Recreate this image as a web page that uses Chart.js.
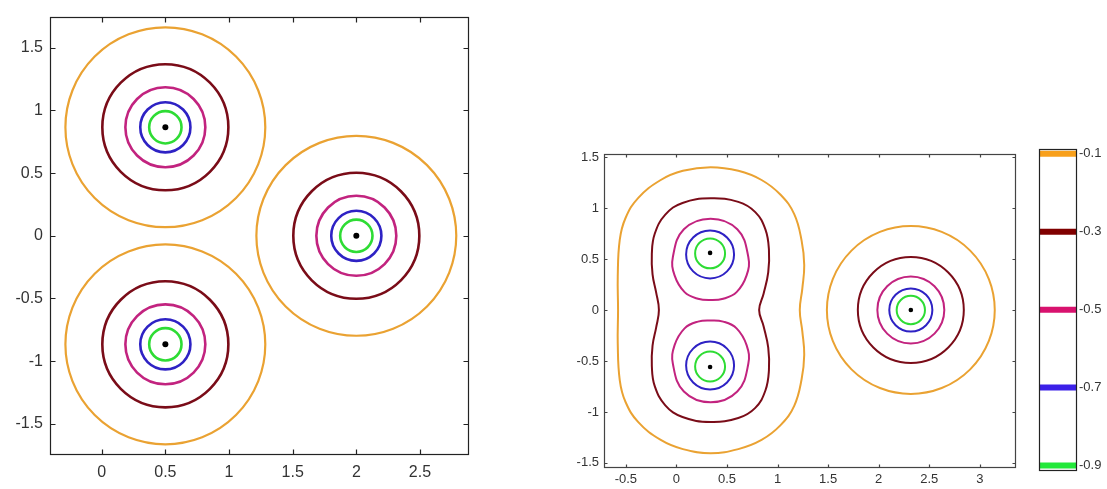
<!DOCTYPE html>
<html><head><meta charset="utf-8">
<script src="https://cdn.jsdelivr.net/npm/chart.js@4.4.1/dist/chart.umd.min.js"></script>
<style>
html,body{margin:0;padding:0;background:#fff;width:1107px;height:489px;overflow:hidden}
canvas{position:absolute}
</style></head><body>
<canvas id="c1" width="480" height="489" style="left:0;top:0"></canvas>
<canvas id="c2" width="490" height="359" style="left:540px;top:130px"></canvas>
<canvas id="c3" width="77" height="359" style="left:1030px;top:130px"></canvas>
<script>
// ---- contour levels and colours ----
const levels = [-0.1, -0.3, -0.5, -0.7, -0.9];
const lineColors = ['#EAA232', '#7A0C18', '#C2237F', '#2E22C4', '#2EDC34'];
const barColors = ['#F8A01C', '#800000', '#D8126E', '#3B20E8', '#22E83A'];
const levelLabels = ['-0.1', '-0.3', '-0.5', '-0.7', '-0.9'];

// ---- left panel: three equal charges, circular contours ----
const leftCenterX = [0.5, 0.5, 2.0];
const leftCenterY = [0.866, -0.866, 0.0];
const leftRadii = [0.785, 0.495, 0.314, 0.197, 0.127];
const leftXTicks = [0, 0.5, 1, 1.5, 2, 2.5];
const leftYTicks = [-1.5, -1, -0.5, 0, 0.5, 1, 1.5];

// ---- right panel ----
const rightCenterX = [0.333, 0.333, 2.318];
const rightCenterY = [0.56, -0.56, 0.0];
const farRadii = [0.83, 0.524, 0.331, 0.213, 0.14];       // around the lone charge
const pairCircleY = [0.545, 0.555];                     // blue, green centres (|y|)
const pairCircleR = [0.237, 0.148];                     // blue, green radii
const rightXTicks = [-0.5, 0, 0.5, 1, 1.5, 2, 2.5, 3];
const rightYTicks = [-1.5, -1, -0.5, 0, 0.5, 1, 1.5];

// closed contours (first point not repeated)
const orangeX = [0.338, 0.612, 0.842, 1.030, 1.165, 1.238, 1.264, 1.245, 1.220, 1.245, 1.264, 1.238, 1.165, 1.030, 0.842, 0.612, 0.338, 0.064, -0.155, -0.377, -0.504, -0.560, -0.580, -0.577, -0.580, -0.560, -0.504, -0.377, -0.155, 0.064];
const orangeY = [1.400, 1.365, 1.275, 1.130, 0.940, 0.680, 0.440, 0.210, 0.000, -0.210, -0.440, -0.680, -0.940, -1.130, -1.275, -1.365, -1.405, -1.365, -1.275, -1.100, -0.900, -0.690, -0.330, 0.000, 0.330, 0.690, 0.900, 1.100, 1.275, 1.365];
const darkRedX = [0.338, 0.612, 0.780, 0.880, 0.915, 0.908, 0.862, 0.818, 0.862, 0.908, 0.915, 0.880, 0.780, 0.612, 0.338, 0.060, -0.110, -0.215, -0.243, -0.236, -0.200, -0.173, -0.200, -0.236, -0.243, -0.215, -0.110, 0.060];
const darkRedY = [1.095, 1.060, 0.960, 0.790, 0.590, 0.370, 0.160, 0.000, -0.160, -0.370, -0.590, -0.790, -0.960, -1.060, -1.098, -1.050, -0.935, -0.745, -0.550, -0.350, -0.170, 0.000, 0.170, 0.350, 0.550, 0.745, 0.935, 1.050];
const magentaX = [0.338, 0.602, 0.711, 0.694, 0.595, 0.463, 0.338, 0.213, 0.081, -0.018, -0.035, 0.074];
const magentaUpY = [0.896, 0.792, 0.520, 0.339, 0.175, 0.110, 0.097, 0.110, 0.175, 0.339, 0.520, 0.792];
const magentaLowY = [-0.906, -0.800, -0.528, -0.345, -0.180, -0.114, -0.103, -0.114, -0.180, -0.345, -0.528, -0.800];

const FONT = "'Liberation Sans', Arial, sans-serif";
const zip = (xs, ys) => xs.map((x, i) => ({x, y: ys[i]}));

// radius given in data units -> pixels through the x scale
function pixR(ctx) {
  if (!ctx.raw || ctx.raw.rr === undefined) return 0;
  const s = ctx.chart.scales.x;
  return Math.abs(s.getPixelForValue(ctx.raw.rr) - s.getPixelForValue(0));
}
function circleSet(points, color, width) {
  return {type: 'scatter', data: points, showLine: false, pointStyle: 'circle',
    pointRadius: pixR, pointHoverRadius: pixR, pointBorderColor: color,
    pointBackgroundColor: 'rgba(0,0,0,0)', pointBorderWidth: width, pointHoverBorderWidth: width,
    clip: false, order: 2};
}
function curveSet(xs, ys, color, width) {
  return {type: 'scatter', data: zip(xs, ys), showLine: true, borderColor: color, borderWidth: width,
    pointRadius: 0, tension: 0.42, fill: false, order: 2, closedLoop: true};
}
function dotSet(xs, ys, r) {
  return {type: 'scatter', data: zip(xs, ys), pointRadius: r, backgroundColor: '#000', borderWidth: 0, order: 1};
}

// let the library's line element close contour loops smoothly (as the radar chart does)
const loopPlugin = {
  id: 'loop',
  afterDatasetsUpdate(chart) {
    chart.data.datasets.forEach((ds, i) => {
      if (!ds.closedLoop) return;
      const line = chart.getDatasetMeta(i).dataset;
      if (!line) return;
      line._loop = true;
      line._fullLoop = true;
      line._pointsUpdated = false;
      delete line._segments;
      delete line._path;
    });
  }
};

function framePlugin(tickLen, color) {
  return {
    id: 'frame',
    afterDraw(chart) {
      const {ctx, chartArea: a, scales} = chart;
      const L = Math.round(a.left) + 0.5, R = Math.round(a.right) - 0.5;
      const T = Math.round(a.top) + 0.5, B = Math.round(a.bottom) - 0.5;
      ctx.save();
      ctx.strokeStyle = color; ctx.lineWidth = 1.2;
      ctx.strokeRect(L, T, R - L, B - T);
      if (tickLen) {
        ctx.beginPath();
        scales.x.ticks.forEach(t => {
          const p = Math.round(scales.x.getPixelForValue(t.value)) + 0.5;
          ctx.moveTo(p, B); ctx.lineTo(p, B - tickLen);
          ctx.moveTo(p, T); ctx.lineTo(p, T + tickLen);
        });
        scales.y.ticks.forEach(t => {
          const p = Math.round(scales.y.getPixelForValue(t.value)) + 0.5;
          ctx.moveTo(L, p); ctx.lineTo(L + tickLen, p);
          ctx.moveTo(R, p); ctx.lineTo(R - tickLen, p);
        });
        ctx.stroke();
      }
      ctx.restore();
    }
  };
}

function axis(min, max, ticks, size, pad, fit, isX) {
  return {
    type: 'linear', min, max,
    afterBuildTicks: s => { s.ticks = ticks.map(v => ({value: v})); },
    afterFit: s => { if (isX) s.height = fit; else s.width = fit; },
    grid: {display: false, drawTicks: false},
    border: {display: false},
    ticks: {font: {family: FONT, size}, color: '#333', padding: pad, maxRotation: 0, autoSkip: false,
      callback: v => String(v)}
  };
}

function baseOptions(padding, scales) {
  return {responsive: false, animation: false, events: [],
    layout: {padding},
    plugins: {legend: {display: false}, tooltip: {enabled: false}},
    scales};
}

// ---- left chart ----
const leftDatasets = [];
levels.forEach((lv, k) => {
  const pts = leftCenterX.map((cx, i) => ({x: cx, y: leftCenterY[i], rr: leftRadii[k]}));
  leftDatasets.push(circleSet(pts, lineColors[k], k === 0 ? 2.2 : 2.6));
});
leftDatasets.push(dotSet(leftCenterX, leftCenterY, 3));

new Chart(document.getElementById('c1'), {
  type: 'scatter',
  data: {datasets: leftDatasets},
  options: baseOptions({left: 0, top: 10, right: 11, bottom: 0}, {
    x: axis(-0.406, 2.885, leftXTicks, 16, 8, 34, true),
    y: axis(-1.749, 1.749, leftYTicks, 16, 7, 50, false)
  }),
  plugins: [framePlugin(5, '#222')]
});

// ---- right chart ----
const rightDatasets = [
  curveSet(orangeX, orangeY, lineColors[0], 2),
  curveSet(darkRedX, darkRedY, lineColors[1], 2),
  curveSet(magentaX, magentaUpY, lineColors[2], 2),
  curveSet(magentaX, magentaLowY, lineColors[2], 2)
];
levels.forEach((lv, k) => {
  rightDatasets.push(circleSet([{x: rightCenterX[2], y: rightCenterY[2], rr: farRadii[k]}], lineColors[k], 2));
});
rightDatasets.push(circleSet([
  {x: rightCenterX[0], y: pairCircleY[0], rr: pairCircleR[0]},
  {x: rightCenterX[1], y: -pairCircleY[0], rr: pairCircleR[0]}], lineColors[3], 2));
rightDatasets.push(circleSet([
  {x: rightCenterX[0], y: pairCircleY[1], rr: pairCircleR[1]},
  {x: rightCenterX[1], y: -pairCircleY[1], rr: pairCircleR[1]}], lineColors[4], 2));
rightDatasets.push(dotSet(rightCenterX, rightCenterY, 2.3));

new Chart(document.getElementById('c2'), {
  type: 'scatter',
  data: {datasets: rightDatasets},
  options: baseOptions({left: 0, top: 24, right: 14, bottom: 0}, {
    x: axis(-0.716, 3.358, rightXTicks, 13, 4, 21, true),
    y: axis(-1.55, 1.53, rightYTicks, 13, 5, 64, false)
  }),
  plugins: [loopPlugin, framePlugin(3, '#444')]
});

// ---- colour bar ----
const barDatasets = levels.map((lv, k) => ({
  type: 'scatter', data: [{x: 0, y: lv}, {x: 1, y: lv}], showLine: true,
  borderColor: barColors[k], borderWidth: 6, pointRadius: 0, borderCapStyle: 'butt'
}));
new Chart(document.getElementById('c3'), {
  type: 'scatter',
  data: {datasets: barDatasets},
  options: baseOptions({left: 9, top: 19, right: 0, bottom: 18}, {
    x: {type: 'linear', min: 0, max: 1, display: false},
    y: Object.assign(axis(-0.914, -0.0879, levels, 13, 2, 30, false), {
      position: 'right',
      ticks: {font: {family: FONT, size: 13}, color: '#333', padding: 2, autoSkip: false,
        callback: (v, i) => levelLabels[i]}
    })
  }),
  plugins: [framePlugin(0, '#222')]
});
</script>
</body></html>
